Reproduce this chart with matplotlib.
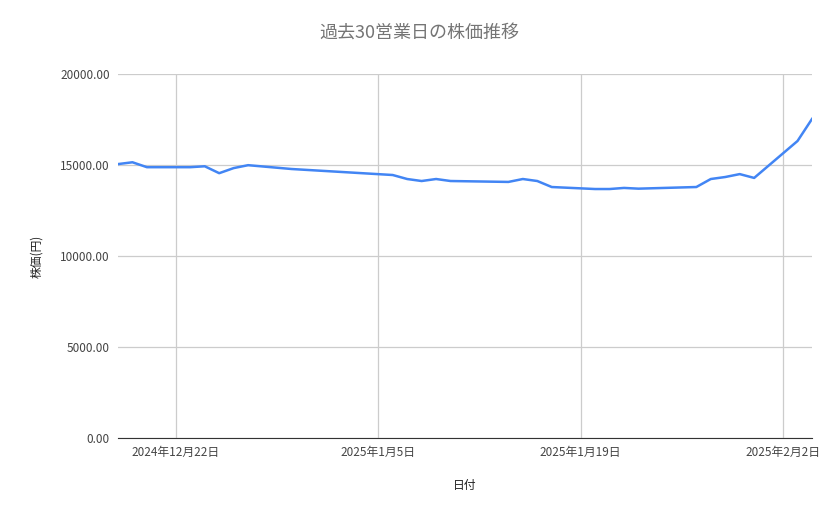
import matplotlib
matplotlib.use("Agg")
import matplotlib.pyplot as plt
import pandas as pd

plt.rcParams['font.family'] = ['Noto Sans CJK JP', 'DejaVu Sans']

dates = ["2024-12-18","2024-12-19","2024-12-20","2024-12-23","2024-12-24","2024-12-25","2024-12-26","2024-12-27",
         "2024-12-30","2025-01-06","2025-01-07","2025-01-08","2025-01-09","2025-01-10","2025-01-14","2025-01-15",
         "2025-01-16","2025-01-17","2025-01-20","2025-01-21","2025-01-22","2025-01-23","2025-01-27","2025-01-28",
         "2025-01-29","2025-01-30","2025-01-31","2025-02-03","2025-02-04"]
prices = [15050,15150,14880,14880,14930,14550,14830,14990,
          14780,14450,14230,14120,14230,14120,14070,14230,
          14120,13790,13680,13680,13740,13700,13790,14230,
          14340,14500,14290,16320,17530]
tick_dates = ["2024-12-22","2025-01-05","2025-01-19","2025-02-02"]
tick_labels = ["2024年12月22日","2025年1月5日","2025年1月19日","2025年2月2日"]

x = pd.to_datetime(dates)
fig = plt.figure(figsize=(8.39,5.19), dpi=100)
ax = fig.add_axes([118/839, 1-438/519, (812-118)/839, (438-74)/519])
ax.plot(x, prices, color='#4285F4', lw=1.8)
ax.set_xlim(pd.Timestamp("2024-12-18"), pd.Timestamp("2025-02-04"))
ax.set_ylim(0, 20000)
ax.set_yticks([0,5000,10000,15000,20000])
ax.set_yticklabels([f"{v:.2f}" for v in [0,5000,10000,15000,20000]])
ax.set_xticks(pd.to_datetime(tick_dates))
ax.set_xticklabels(tick_labels)
ax.grid(True, color='#cccccc', lw=0.9)
for s in ['top','right','left']:
    ax.spines[s].set_visible(False)
ax.spines['bottom'].set_color('#333333')
ax.tick_params(length=0, labelsize=8.5, colors='#444444', pad=6)
ax.set_xlabel("日付", fontsize=8.5, color='#222222', labelpad=14)
ax.set_ylabel("株価(円)", fontsize=8.5, color='#222222', labelpad=12)
fig.suptitle("過去30営業日の株価推移", y=0.955, fontsize=13, color='#757575')
fig.savefig("out.png", dpi=100)
